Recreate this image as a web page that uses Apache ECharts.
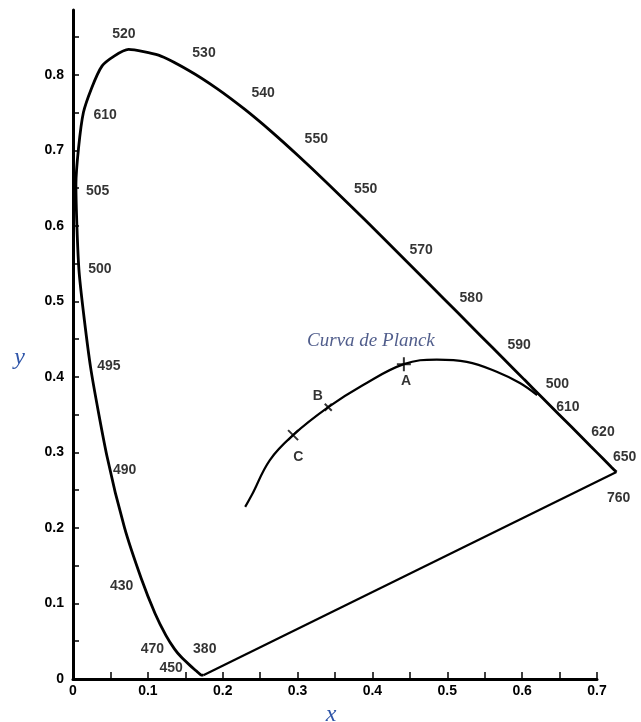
<!DOCTYPE html>
<html>
<head>
<meta charset="utf-8">
<script src="https://cdn.jsdelivr.net/npm/echarts@6/dist/echarts.min.js"></script>
<style>html,body{margin:0;padding:0;background:#fff}#c{width:641px;height:722px}</style>
</head>
<body>
<div id="c"></div>
<script>
// Spectral locus (x, y), by wavelength (nm)
const locusWavelengths = [380,400,420,430,440,450,460,465,470,475,480,485,490,495,500,505,510,515,520,525,530,535,540,545,550,555,560,565,570,575,580,585,590,595,600,605,610,620,630,640,650];
const locusX = [0.1741,0.1733,0.1714,0.1689,0.1644,0.1566,0.1440,0.1355,0.1241,0.1096,0.0913,0.0687,0.0454,0.0235,0.0082,0.0039,0.0139,0.0389,0.0743,0.1142,0.1547,0.1929,0.2296,0.2658,0.3016,0.3373,0.3731,0.4087,0.4441,0.4788,0.5125,0.5448,0.5752,0.6029,0.6270,0.6482,0.6658,0.6915,0.7079,0.7190,0.7260];
const locusY = [0.0050,0.0048,0.0051,0.0069,0.0109,0.0177,0.0297,0.0399,0.0578,0.0868,0.1327,0.2007,0.2950,0.4127,0.5384,0.6548,0.7502,0.8120,0.8338,0.8262,0.8059,0.7816,0.7543,0.7243,0.6923,0.6589,0.6245,0.5896,0.5547,0.5202,0.4866,0.4544,0.4242,0.3965,0.3725,0.3514,0.3340,0.3083,0.2920,0.2809,0.2740];

// Purple line: from the red end (760) back to 380
const purpleX = [0.7260, 0.1741];
const purpleY = [0.2740, 0.0050];

// Planck curve
const planckX = [0.230,0.239,0.263,0.294,0.341,0.387,0.442,0.486,0.526,0.566,0.597,0.620];
const planckY = [0.228,0.244,0.290,0.323,0.360,0.389,0.417,0.423,0.420,0.407,0.392,0.376];

// Illuminant points on the Planck curve
const illumNames = ['C','B','A'];
const illumX = [0.294,0.341,0.442];
const illumY = [0.323,0.360,0.417];
const illumLabelX = [0.301,0.327,0.445];
const illumLabelY = [0.294,0.374,0.395];

// Wavelength labels as printed, and where they sit
const wlLabels = ['520','530','540','550','550','570','580','590','500','610','620','650','760','610','505','500','495','490','430','470','450','380'];
const wlLabelX = [0.068,0.175,0.254,0.325,0.391,0.465,0.532,0.596,0.647,0.661,0.708,0.737,0.729,0.043,0.033,0.036,0.048,0.069,0.065,0.106,0.131,0.176];
const wlLabelY = [0.854,0.829,0.776,0.715,0.649,0.568,0.505,0.442,0.391,0.360,0.327,0.294,0.240,0.747,0.646,0.543,0.415,0.277,0.123,0.040,0.015,0.040];

// Small marks at the ends of the purple line
const endTickX = [0.1741, 0.7260];
const endTickY = [0.0050, 0.2740];

const curveTitle = 'Curva de Planck';
const curveTitleX = 0.398, curveTitleY = 0.448;

const xTickLabels = ['0','0.1','0.2','0.3','0.4','0.5','0.6','0.7'];
const yTickLabels = ['0','0.1','0.2','0.3','0.4','0.5','0.6','0.7','0.8'];

const zip = (a, b) => a.map((v, i) => [v, b[i]]);
const lblFont = { fontFamily: 'Liberation Sans, Arial, sans-serif', fontSize: 14, fontWeight: 'bold', color: '#000' };

const chart = echarts.init(document.getElementById('c'), null, { renderer: 'canvas' });

const tickFmt = (labels) => (v) => {
  const r = Math.round(v * 100);
  if (r % 10 !== 0) return '';
  return labels[r / 10] !== undefined ? labels[r / 10] : '';
};

const PX_PER_X = 524 / 0.7;
const dataXMax = 0.75;
const gridBase = { left: 73, bottom: 43, containLabel: false, outerBoundsMode: 'none' };

chart.setOption({
  animation: false,
  backgroundColor: '#fff',
  grid: [
    Object.assign({ right: 44, top: 10 }, gridBase),
    Object.assign({ right: 44, top: 37.2 }, gridBase),
    Object.assign({ right: 641 - 73 - dataXMax * PX_PER_X, top: 10 }, gridBase)
  ],
  xAxis: [
    {
      gridIndex: 0, type: 'value', min: 0, max: 0.7, interval: 0.05,
      axisLine: { show: true, onZero: false, lineStyle: { color: '#000', width: 3 } },
      axisTick: { show: true, inside: true, length: 7, lineStyle: { color: '#000', width: 1.5 } },
      axisLabel: Object.assign({ margin: 5, formatter: tickFmt(xTickLabels) }, lblFont),
      splitLine: { show: false },
      name: 'x', nameLocation: 'middle', nameGap: 21,
      nameTextStyle: { fontFamily: 'Liberation Serif, Times New Roman, serif', fontStyle: 'italic', fontSize: 24, color: '#2f55a8', padding: [0, 8, 0, 0] }
    },
    { gridIndex: 1, type: 'value', min: 0, max: 0.7, show: false },
    { gridIndex: 2, type: 'value', min: 0, max: dataXMax, show: false }
  ],
  yAxis: [
    {
      gridIndex: 0, type: 'value', min: 0, max: 0.886,
      axisLine: { show: true, onZero: false, lineStyle: { color: '#000', width: 3 } },
      axisTick: { show: false }, axisLabel: { show: false }, splitLine: { show: false }
    },
    {
      gridIndex: 1, type: 'value', min: 0, max: 0.85, interval: 0.05,
      axisLine: { show: false },
      axisTick: { show: true, inside: true, length: 6, lineStyle: { color: '#000', width: 1.5 } },
      axisLabel: Object.assign({ margin: 9, formatter: tickFmt(yTickLabels) }, lblFont),
      splitLine: { show: false },
      name: 'y', nameLocation: 'middle', nameGap: 48, nameRotate: 0,
      nameTextStyle: { fontFamily: 'Liberation Serif, Times New Roman, serif', fontStyle: 'italic', fontSize: 24, color: '#2f55a8' }
    },
    { gridIndex: 2, type: 'value', min: 0, max: 0.886, show: false }
  ],
  series: [
    {
      type: 'line', xAxisIndex: 2, yAxisIndex: 2, clip: false, symbol: 'none',
      data: zip(locusX, locusY), smooth: 0.2,
      lineStyle: { color: '#000', width: 2.8 }
    },
    {
      type: 'line', xAxisIndex: 2, yAxisIndex: 2, clip: false, symbol: 'none',
      data: zip(purpleX, purpleY),
      lineStyle: { color: '#000', width: 2.2 }
    },
    {
      type: 'line', xAxisIndex: 2, yAxisIndex: 2, clip: false, symbol: 'none',
      data: zip(planckX, planckY), smooth: 0.4,
      lineStyle: { color: '#000', width: 2.2 }
    },
    {
      type: 'scatter', xAxisIndex: 2, yAxisIndex: 2, clip: false,
      symbol: 'path://M0,0L0,10', symbolSize: [2, 10],
      itemStyle: { color: 'none', borderColor: '#000', borderWidth: 1.5 },
      data: zip(endTickX, endTickY).map((p, i) => ({ value: p, symbolOffset: i === 0 ? [0, -5] : [0, 6] }))
    },
    {
      type: 'scatter', xAxisIndex: 2, yAxisIndex: 2, clip: false,
      itemStyle: { color: 'none', borderColor: '#000', borderWidth: 2 },
      data: illumX.map((x, i) => ({
        value: [x, illumY[i]],
        symbol: i === 2 ? 'path://M5,0L5,10M0,5L10,5' : 'path://M0,0L10,10M10,0L0,10',
        symbolSize: i === 2 ? 14 : (i === 1 ? 7 : 10)
      }))
    },
    {
      type: 'scatter', xAxisIndex: 2, yAxisIndex: 2, clip: false, symbolSize: 0,
      data: illumNames.map((n, i) => ({ name: n, value: [illumLabelX[i], illumLabelY[i]] })),
      label: Object.assign({ show: true, position: 'inside', formatter: '{b}' }, lblFont)
    },
    {
      type: 'scatter', xAxisIndex: 2, yAxisIndex: 2, clip: false, symbolSize: 0,
      data: wlLabels.map((n, i) => ({ name: n, value: [wlLabelX[i], wlLabelY[i]] })),
      label: Object.assign({ show: true, position: 'inside', formatter: '{b}' }, lblFont)
    },
    {
      type: 'scatter', xAxisIndex: 2, yAxisIndex: 2, clip: false, symbolSize: 0,
      data: [{ name: curveTitle, value: [curveTitleX, curveTitleY] }],
      label: { show: true, position: 'inside', formatter: '{b}', fontFamily: 'Liberation Serif, Times New Roman, serif', fontStyle: 'italic', fontSize: 19, color: '#24356e' }
    }
  ]
});
</script>
</body>
</html>
